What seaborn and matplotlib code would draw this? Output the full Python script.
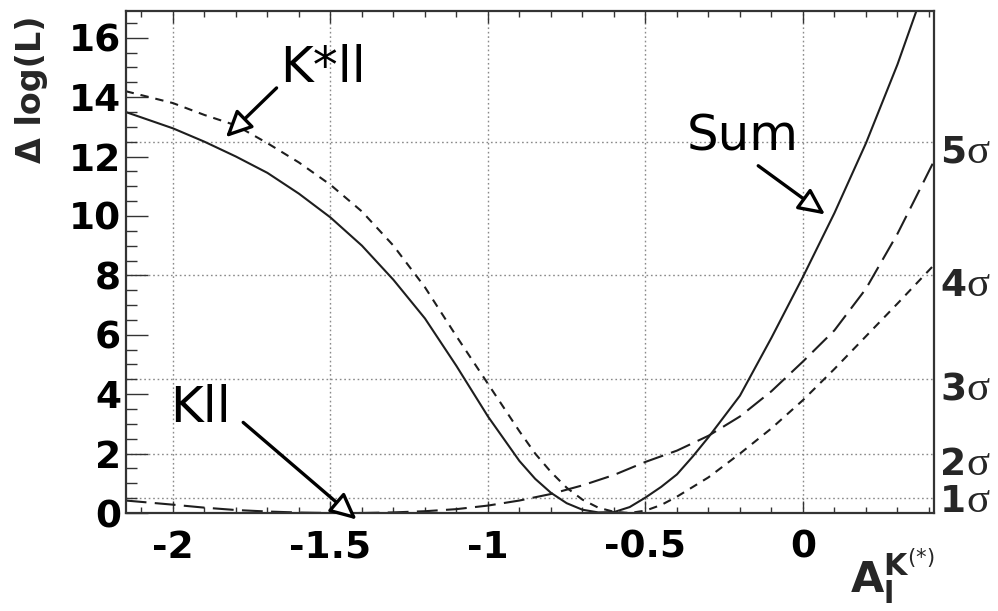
import matplotlib
matplotlib.use("Agg")
import matplotlib.pyplot as plt
import seaborn as sns
import pandas as pd
from matplotlib.ticker import MultipleLocator
from matplotlib.transforms import blended_transform_factory, offset_copy

# ---------------- data ----------------
x_sum = [-2.15, -2.0, -1.9, -1.8, -1.7, -1.6, -1.5, -1.4, -1.3, -1.2, -1.1, -1.05,
         -1.0, -0.95, -0.9, -0.85, -0.8, -0.75, -0.7, -0.65, -0.6, -0.55, -0.5,
         -0.45, -0.4, -0.35, -0.3, -0.2, -0.1, 0.0, 0.1, 0.2, 0.3, 0.35, 0.38]
y_sum = [13.5, 12.95, 12.5, 12.0, 11.45, 10.75, 9.95, 9.0, 7.85, 6.55, 4.95, 4.1,
         3.25, 2.5, 1.75, 1.15, 0.68, 0.33, 0.11, 0.02, 0.03, 0.2, 0.52,
         0.88, 1.3, 1.9, 2.55, 3.95, 5.9, 7.95, 10.1, 12.45, 15.1, 16.6, 17.5]

x_kstar = [-2.15, -2.0, -1.9, -1.8, -1.7, -1.6, -1.5, -1.4, -1.3, -1.2, -1.1, -1.0,
           -0.95, -0.9, -0.85, -0.8, -0.75, -0.7, -0.65, -0.6, -0.55, -0.5, -0.45,
           -0.4, -0.3, -0.2, -0.1, 0.0, 0.1, 0.2, 0.3, 0.416]
y_kstar = [14.2, 13.8, 13.4, 13.05, 12.45, 11.8, 11.05, 10.15, 9.0, 7.6, 5.95, 4.35,
           3.55, 2.75, 2.0, 1.38, 0.85, 0.45, 0.18, 0.04, 0.0, 0.08, 0.27,
           0.55, 1.2, 2.0, 2.85, 3.8, 4.85, 5.95, 7.05, 8.35]

x_kll = [-2.15, -2.0, -1.9, -1.8, -1.7, -1.6, -1.5, -1.4, -1.3, -1.2, -1.1, -1.0,
         -0.9, -0.8, -0.7, -0.6, -0.5, -0.4, -0.3, -0.2, -0.1, 0.0, 0.1, 0.2,
         0.3, 0.35, 0.416]
y_kll = [0.42, 0.28, 0.18, 0.1, 0.05, 0.015, 0.0, 0.0, 0.02, 0.06, 0.13, 0.25,
         0.42, 0.64, 0.93, 1.28, 1.72, 2.1, 2.6, 3.25, 4.1, 5.1, 6.15, 7.55,
         9.4, 10.45, 11.85]

x_ticks = [-2.0, -1.5, -1.0, -0.5, 0.0]
x_tick_labels = ["-2", "-1.5", "-1", "-0.5", "0"]
y_ticks = [0, 2, 4, 6, 8, 10, 12, 14, 16]
sigma_levels = [1, 2, 3, 4, 5]
sigma_values = [0.5, 2.0, 4.5, 8.0, 12.5]

annot_texts = ["K*ll", "Kll", "Sum"]
annot_text_pos = [(-1.66, 14.52), (-2.01, 3.07), (-0.368, 12.2)]
annot_tail = [(-1.671, 14.31), (-1.777, 3.05), (-0.142, 11.69)]
annot_tip = [(-1.832, 12.65), (-1.417, -0.22), (0.070, 10.05)]

# ---------------- style ----------------
sns.set_theme(style="white")
plt.rcParams['font.family'] = ['DejaVu Sans']
plt.rcParams['axes.unicode_minus'] = False
plt.rcParams['lines.scale_dashes'] = False
plt.rcParams['mathtext.fontset'] = 'dejavusans'

W, H = 998, 611
fig = plt.figure(figsize=(W / 100, H / 100), dpi=100)
fig.patch.set_facecolor("white")
L, R, T, B = 126, 934, 11, 513
ax = fig.add_axes([L / W, 1 - B / H, (R - L) / W, (B - T) / H])
ax.set_facecolor("white")

ax.set_xlim(-2.149, 0.416)
ax.set_ylim(0, 16.9)

grid_kw = dict(color="#8a8a8a", lw=1.0, ls=(0, (1.2, 2.0)), zorder=0.5)
for v in sigma_values:
    ax.axhline(v, **grid_kw)
for xv in x_ticks:
    ax.axvline(xv, **grid_kw)

line_color = "#1e1e1e"
df_sum = pd.DataFrame({"x": x_sum, "y": y_sum})
df_kst = pd.DataFrame({"x": x_kstar, "y": y_kstar})
df_kll = pd.DataFrame({"x": x_kll, "y": y_kll})

sns.lineplot(data=df_sum, x="x", y="y", ax=ax, color=line_color, lw=1.5,
             estimator=None, sort=False)
sns.lineplot(data=df_kst, x="x", y="y", ax=ax, color=line_color, lw=1.5,
             estimator=None, sort=False)
ax.lines[-1].set_dashes([6, 5])
sns.lineplot(data=df_kll, x="x", y="y", ax=ax, color=line_color, lw=1.5,
             estimator=None, sort=False)
ax.lines[-1].set_dashes([15, 6])

# ---------------- axes cosmetics ----------------
for sp in ax.spines.values():
    sp.set_visible(True)
    sp.set_color("#333333")
    sp.set_linewidth(1.6)

ax.set_xticks(x_ticks, x_tick_labels)
ax.xaxis.set_minor_locator(MultipleLocator(0.1))
ax.set_yticks(y_ticks)
ax.yaxis.set_minor_locator(MultipleLocator(0.5))
ax.tick_params(axis="x", which="both", direction="in", top=True, bottom=True,
               colors="#333333", labelcolor="black")
ax.tick_params(axis="x", which="major", length=8.5, width=1.0, pad=12, labelsize=27)
ax.tick_params(axis="x", which="minor", length=4.3, width=1.0)
ax.tick_params(axis="y", which="both", direction="in", left=True, right=False,
               colors="#333333", labelcolor="black")
ax.tick_params(axis="y", which="major", length=16, width=1.0, pad=3.5, labelsize=27)
ax.tick_params(axis="y", which="minor", length=8, width=1.0)
for lbl in ax.get_xticklabels() + ax.get_yticklabels():
    lbl.set_fontweight("bold")

ax.set_ylabel("Δ log(L)", fontsize=24, fontweight="bold", loc="top")
ax.yaxis.set_label_coords(-0.0965, 0.992)
ax.set_xlabel(r"$\mathbf{A}_{\mathbf{l}}^{\mathbf{K}^{(*)}}$", fontsize=31, loc="right")
ax.xaxis.set_label_coords(1.0, -0.066)

# sigma labels on the right
btrans = blended_transform_factory(ax.transAxes, ax.transData)
for n, v in zip(sigma_levels, sigma_values):
    dy = -14 if n == 1 else -21
    t1 = offset_copy(btrans, fig=fig, x=6, y=dy, units="dots")
    ax.text(1.0, v, str(n), transform=t1, fontsize=27, fontweight="bold",
            ha="left", va="baseline", clip_on=False)
    t2 = offset_copy(btrans, fig=fig, x=32, y=dy, units="dots")
    ax.text(1.0, v, "σ", transform=t2, fontsize=31, family="Liberation Serif",
            ha="left", va="baseline", clip_on=False)

# annotations
for txt, pos, tail, tip in zip(annot_texts, annot_text_pos, annot_tail, annot_tip):
    ax.text(pos[0], pos[1], txt, fontsize=36, ha="left", va="baseline",
            family="DejaVu Sans", color="black", zorder=5)
    ax.annotate("", xy=tip, xytext=tail, annotation_clip=False, zorder=5,
                arrowprops=dict(arrowstyle="-|>,head_length=0.8,head_width=0.38",
                                lw=2.4, fc="white", ec="black",
                                mutation_scale=20, shrinkA=0, shrinkB=0))

fig.savefig("out.png", dpi=100)
